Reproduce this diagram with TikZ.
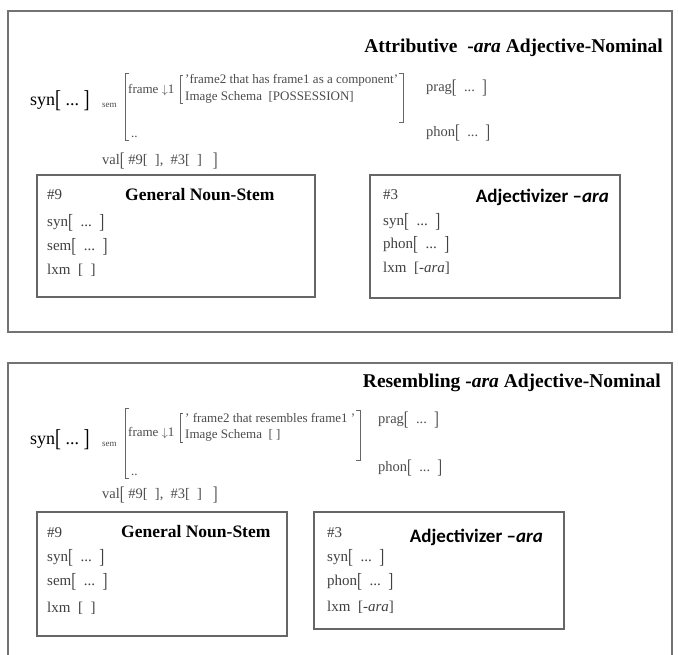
\documentclass[tikz,border=0pt]{standalone}
\usepackage{graphicx}
\usepackage{fontspec}
\setmainfont{Liberation Serif}
\newfontfamily\calib{Carlito}
\newcommand\lbk{\raisebox{-0.12em}{\scalebox{1}[1.35]{[}}}
\newcommand\rbk{\raisebox{-0.12em}{\scalebox{1}[1.35]{]}}}
\begin{document}
\begin{tikzpicture}[x=1pt,y=-1pt,
  frame/.style={draw=black!55,line width=1.3pt},
  inbox/.style={draw=black!60,line width=1.1pt},
  brk/.style={draw=black!60,line width=0.9pt},
  ttl/.style={anchor=east,inner sep=0pt,font=\fontsize{19.5}{20}\selectfont\bfseries},
  subttl/.style={anchor=west,inner sep=0pt,font=\fontsize{17.5}{18}\selectfont\bfseries},
  adjttl/.style={anchor=east,inner sep=0pt,font=\fontsize{19}{20}\calib\bfseries},
  big/.style={anchor=west,inner sep=0pt,font=\fontsize{18}{19}\selectfont},
  mid/.style={anchor=west,inner sep=0pt,text=black!70,font=\fontsize{14.5}{15}\selectfont},
  sml/.style={anchor=west,inner sep=0pt,text=black!70,font=\fontsize{13}{14}\selectfont},
  vsty/.style={anchor=west,inner sep=0pt,text=black!70,font=\fontsize{14.5}{15}\selectfont},
  tiny/.style={anchor=west,inner sep=0pt,text=black!70,font=\fontsize{9}{10}\selectfont},
  fld/.style={anchor=west,inner sep=0pt,text=black!75,font=\fontsize{15}{16}\selectfont}]
\useasboundingbox (0,0) rectangle (678,655);
\fill[white] (0,0) rectangle (678,655);

% ================= top construction =================
\draw[frame] (8,11) rectangle (672,332);
\node[ttl] (t1) at (663,48) {Attributive\ \ -\textit{ara} Adjective-Nominal};
\node[big] (syn1) at (30,101) {syn\lbk\ ...\ \rbk};
\node[tiny] (sem1) at (102,105) {sem};
\draw[brk] (129,73) -- (125,73) -- (125,140) -- (129,140);
\node[sml] (fr1) at (128,90) {frame \(\downarrow\)1};
\draw[brk] (183,75) -- (180,75) -- (180,103) -- (183,103);
\node[sml] (a1) at (185,80) {'frame2 that has frame1 as a component'};
\node[sml] (b1) at (185,97) {Image Schema\ \ [POSSESSION]};
\draw[brk] (399,73) -- (403,73) -- (403,122) -- (399,122);
\node[mid] (pr1) at (426,88) {prag\lbk\ \ ...\ \ \rbk};
\node[mid] (ph1) at (426,133) {phon\lbk\ \ ...\ \ \rbk};
\node[sml] (d1) at (131,137) {..};
\node[vsty] (v1) at (102,161) {val\lbk\ \#9[\ \ ],\ \ \#3[\ \ ]\ \ \ \rbk};

\draw[inbox] (37,175) rectangle (315,297);
\node[fld] (n9a) at (47,195) {\#9};
\node[subttl] (g1) at (125,195) {General Noun-Stem};
\node[fld] (s9a) at (47,223) {syn\lbk\ \ ...\ \ \rbk};
\node[fld] (m9a) at (47,247) {sem\lbk\ \ ...\ \ \rbk};
\node[fld] (l9a) at (47,270) {lxm\ \ [\ \ ]};

\draw[inbox] (370,175) rectangle (620,298);
\node[fld] (n3a) at (383,195) {\#3};
\node[adjttl] (j1) at (609,197) {Adjectivizer \textendash\textit{ara}};
\node[fld] (s3a) at (383,222) {syn\lbk\ \ ...\ \ \rbk};
\node[fld] (p3a) at (383,245) {phon\lbk\ \ ...\ \ \rbk};
\node[fld] (l3a) at (383,268) {lxm\ \ [-\textit{ara}]};

% ================= bottom construction =================
\draw[frame] (8,656) -- (8,363) -- (672,363) -- (672,656);
\node[ttl] (t2) at (661,383) {Resembling -\textit{ara} Adjective-Nominal};
\node[big] (syn2) at (30,440) {syn\lbk\ ...\ \rbk};
\node[tiny] (sem2) at (102,444) {sem};
\draw[brk] (129,408) -- (125,408) -- (125,478) -- (129,478);
\node[sml] (fr2) at (128,433) {frame \(\downarrow\)1};
\draw[brk] (183,413) -- (180,413) -- (180,442) -- (183,442);
\node[sml] (a2) at (185,418) {' frame2 that resembles frame1 '};
\node[sml] (b2) at (185,435) {Image Schema\ \ [\ ]};
\draw[brk] (356,410) -- (360,410) -- (360,460) -- (356,460);
\node[mid] (pr2) at (378,420) {prag\lbk\ \ ...\ \ \rbk};
\node[mid] (ph2) at (378,468) {phon\lbk\ \ ...\ \ \rbk};
\node[sml] (d2) at (131,475) {..};
\node[vsty] (v2) at (102,495) {val\lbk\ \#9[\ \ ],\ \ \#3[\ \ ]\ \ \ \rbk};

\draw[inbox] (37,512) rectangle (287,636);
\node[fld] (n9b) at (47,533) {\#9};
\node[subttl] (g2) at (121,532) {General Noun-Stem};
\node[fld] (s9b) at (47,558) {syn\lbk\ \ ...\ \ \rbk};
\node[fld] (m9b) at (47,582) {sem\lbk\ \ ...\ \ \rbk};
\node[fld] (l9b) at (47,608) {lxm\ \ [\ \ ]};

\draw[inbox] (314,512) rectangle (564,629);
\node[fld] (n3b) at (327,533) {\#3};
\node[adjttl] (j2) at (543,537) {Adjectivizer \textendash\textit{ara}};
\node[fld] (s3b) at (327,558) {syn\lbk\ \ ...\ \ \rbk};
\node[fld] (p3b) at (327,582) {phon\lbk\ \ ...\ \ \rbk};
\node[fld] (l3b) at (327,607) {lxm\ \ [-\textit{ara}]};
\end{tikzpicture}
\end{document}
